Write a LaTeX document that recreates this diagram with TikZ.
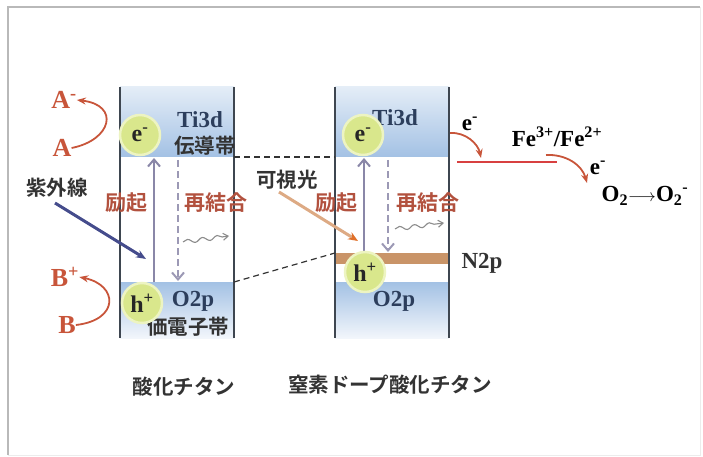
\documentclass[tikz,border=0pt]{standalone}
\usepackage{fontspec}
\setmainfont{Liberation Serif}
\newfontfamily\jp{Noto Sans CJK JP}[BoldFont={Noto Sans CJK JP Bold}]
\usetikzlibrary{arrows.meta,decorations.pathmorphing}
\definecolor{cbT}{HTML}{E4EDF7}
\definecolor{cbB}{HTML}{A3C1E4}
\definecolor{vbB}{HTML}{F2F6FB}
\definecolor{boxc}{HTML}{3E4650}
\definecolor{redb}{HTML}{C8553A}
\definecolor{lab}{HTML}{B2513E}
\definecolor{blu}{HTML}{2C3E5C}
\definecolor{exc}{HTML}{8A87A8}
\definecolor{circf}{HTML}{D9E78C}
\definecolor{circr}{HTML}{EDF4C2}
\definecolor{ntwo}{HTML}{C99468}
\definecolor{uvc}{HTML}{454C8C}
\definecolor{visc}{HTML}{DDAA84}
\definecolor{vist}{HTML}{E0702A}
\definecolor{redl}{HTML}{D84040}
\begin{document}
\begin{tikzpicture}[x=1pt,y=-1pt,
  ser/.style={font=\fontsize{23}{25}\selectfont\bfseries, inner sep=0pt},
  serb/.style={ser, text=blu},
  serr/.style={font=\fontsize{26}{28}\selectfont\bfseries, text=redb, inner sep=0pt},
  jpl/.style={font=\fontsize{20.5}{22}\selectfont\jp\bfseries, text=black!80, inner sep=0pt},
  jpr/.style={font=\fontsize{21}{23}\selectfont\jp\bfseries, text=lab, inner sep=0pt},
  circ/.style={circle, minimum size=40pt, inner sep=0pt, fill=circf, draw=circr, line width=2.5pt,
     font=\fontsize{24}{26}\selectfont\bfseries, text=black!85},
  boxline/.style={draw=boxc, line width=1.8pt},
  excarrow/.style={draw=exc, line width=2.6pt, -{Straight Barb[length=7pt,width=12pt,line width=2pt]}},
  recarrow/.style={draw=exc!85, line width=2.4pt, dash pattern=on 7pt off 4pt, -{Straight Barb[length=7pt,width=12pt,line width=2pt]}},
  wavy/.style={draw=gray!90, line width=1.1pt, decorate, decoration={snake, amplitude=2pt, segment length=15pt, post length=5pt}, -{Straight Barb[length=5pt,width=7pt]}},
  redarc/.style={draw=redb, line width=1.8pt, -{Stealth[length=9pt,width=7pt]}},
  conn/.style={draw=black!80, line width=1.2pt, dash pattern=on 6pt off 4pt}
]
\useasboundingbox (0,0) rectangle (703,457);
% frame
\draw[gray!55, line width=1.3pt] (8,455) -- (8,7) -- (700,7);
\draw[gray!15, line width=0.8pt] (700,7) -- (700,455) -- (8,455);

% ---------- left box (TiO2) ----------
\shade[top color=cbT, bottom color=cbB] (120,87) rectangle (234,157);
\shade[top color=cbB, bottom color=vbB] (120,282) rectangle (234,338);
\draw[boxline] (120,87) -- (120,338);
\draw[boxline] (234,87) -- (234,338);
\coordinate (lcbR) at (234,157);
\coordinate (lvbR) at (234,282);

\node[serb] (ti1) at (200,120) {Ti3d};
\node[jpl] (cb1) at (205,146) {伝導帯};
\node[serb] (o1) at (193,301) {O2p};
\node[jpl] (vb1) at (188,327) {価電子帯};

\coordinate (ex1s) at (154,282);
\coordinate (ex1e) at (154,158);
\draw[excarrow] (ex1s) -- (ex1e);
\coordinate (re1s) at (178,160);
\coordinate (re1e) at (178,281);
\draw[recarrow] (re1s) -- (re1e);
\coordinate (w1s) at (183,242);
\coordinate (w1e) at (229,236);
\draw[wavy] (w1s) -- (w1e);

\node[circ] (e1) at (140,135) {e\textsuperscript{-}};
\node[circ] (h1) at (142,303) {h\textsuperscript{+}};

\node[jpr] (lek1) at (126,203) {励起};
\node[jpr] (lsa1) at (216,203) {再結合};
\node[jpl] (uv) at (57,188) {紫外線};
\coordinate (uvs) at (55,203);
\coordinate (uve) at (146,259);
\draw[draw=uvc, line width=3pt, -{Stealth[length=10pt,width=8pt]}] (uvs) -- (uve);

\node[serr] (Am) at (64,100) {A\textsuperscript{-}};
\node[serr] (A) at (62,148) {A};
\draw[redarc] (A.east) .. controls (112,140) and (120,105) .. (Am.east);
\node[serr] (Bp) at (65,277) {B\textsuperscript{+}};
\node[serr] (B) at (67,325) {B};
\draw[redarc] (B.east) .. controls (120,320) and (118,285) .. (Bp.east);

\node[jpl] (name1) at (184,387) {酸化チタン};

% ---------- right box (N-doped TiO2) ----------
\shade[top color=cbT, bottom color=cbB] (335,87) rectangle (449,157);
\shade[top color=cbB, bottom color=vbB] (335,282) rectangle (449,338);
\fill[ntwo] (335,253) rectangle (449,264);
\draw[boxline] (335,87) -- (335,338);
\draw[boxline] (449,87) -- (449,338);
\coordinate (rcbL) at (335,157);
\coordinate (rnL) at (335,253);

\draw[conn] (lcbR) -- (rcbL);
\draw[conn] (lvbR) -- (rnL);

\node[serb] (ti2) at (395,118) {Ti3d};
\node[serb] (o2) at (394,301) {O2p};
\node[ser, text=black!80] (n2) at (482,263) {N2p};

\coordinate (ex2s) at (364,253);
\coordinate (ex2e) at (364,158);
\draw[excarrow] (ex2s) -- (ex2e);
\coordinate (re2s) at (388,160);
\coordinate (re2e) at (388,252);
\draw[recarrow] (re2s) -- (re2e);
\coordinate (w2s) at (395,229);
\coordinate (w2e) at (444,223);
\draw[wavy] (w2s) -- (w2e);

\node[circ] (e2) at (363,135) {e\textsuperscript{-}};
\node[circ] (h2) at (365,272) {h\textsuperscript{+}};

\node[jpr] (lek2) at (336,203) {励起};
\node[jpr] (lsa2) at (428,203) {再結合};
\node[jpl] (vis) at (287,180) {可視光};
\coordinate (viss) at (279,192);
\coordinate (vise) at (358,241);
\draw[draw=visc, line width=3pt, -{Stealth[length=10pt,width=8pt,color=vist]}] (viss) -- (vise);

\node[jpl] (name2) at (390,385) {窒素ドープ酸化チタン};

% ---------- right side ----------
\node[ser] (em1) at (470,124) {e\textsuperscript{-}};
\coordinate (a1s) at (450,133);
\coordinate (fl) at (457,162);
\coordinate (fr) at (557,162);
\coordinate (a1e) at (481,158);
\draw[draw=redl, line width=2.6pt] (fl) -- (fr);
\draw[redarc] (a1s) .. controls (466,132) and (478,144) .. (a1e);
\node[ser] (fe) at (557,137) {Fe\textsuperscript{3+}/Fe\textsuperscript{2+}};
\coordinate (a2s) at (546,155);
\coordinate (a2e) at (587,183);
\draw[redarc] (a2s) .. controls (566,154) and (582,165) .. (a2e);
\node[ser] (em2) at (598,168) {e\textsuperscript{-}};
\node[ser] (o2r) at (645,196) {O\textsubscript{2}{\fontsize{17}{19}\selectfont$\longrightarrow$}O\textsubscript{2}\textsuperscript{-}};
\end{tikzpicture}
\end{document}
